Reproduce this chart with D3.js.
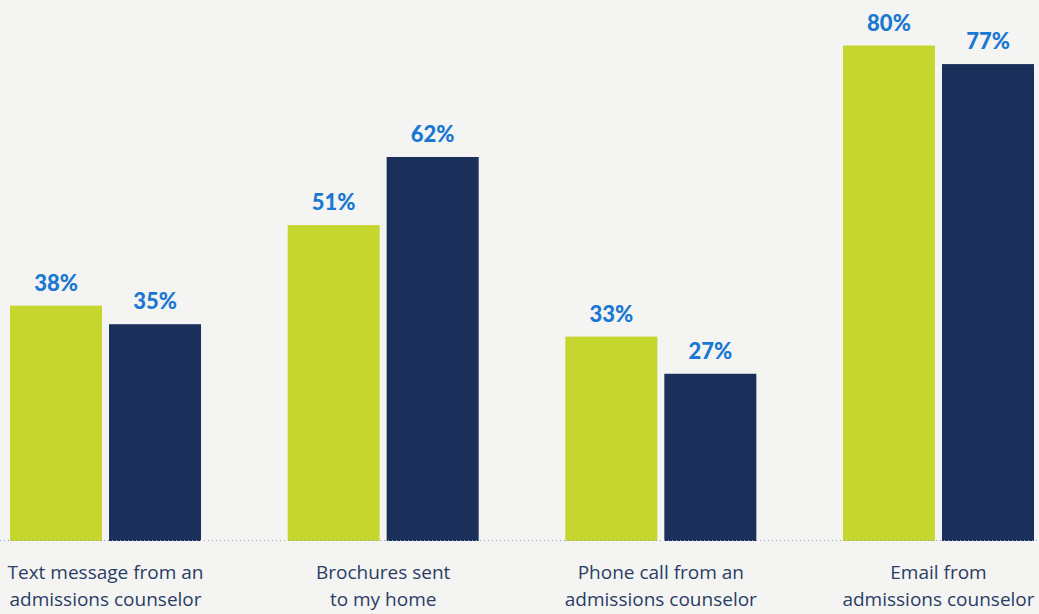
<!DOCTYPE html>
<html>
<head>
<meta charset="utf-8">
<script src="https://cdn.jsdelivr.net/npm/d3@7"></script>
<style>
  html, body { margin: 0; padding: 0; background: #f4f4f2; }
  svg { display: block; }
</style>
</head>
<body>
<svg id="chart" width="1039" height="614"></svg>
<script>
// Communication channels and the share of respondents for each of the two groups
const categories = [
  ["Text message from an", "admissions counselor"],
  ["Brochures sent", "to my home"],
  ["Phone call from an", "admissions counselor"],
  ["Email from", "admissions counselor"]
];
const seriesNames = ["green", "navy"];
const greenValues = [38, 51, 33, 80];
const navyValues = [35, 62, 27, 77];

const colors = { green: "#c5d62e", navy: "#1a2f5a" };

const W = 1039, H = 614;
const baseY = 541;
const svg = d3.select("#chart");

const keys = categories.map((c, i) => "c" + i);
const x0 = d3.scaleBand().domain(keys).range([10, 1034]).paddingInner(0.312).paddingOuter(0);
const x1 = d3.scaleBand().domain(seriesNames).range([0, x0.bandwidth()]).paddingInner(7 / 99).paddingOuter(0);
const y = d3.scaleLinear().domain([0, 80]).range([baseY, 45.5]);

const rows = keys.map((k, i) => ({
  key: k,
  label: categories[i],
  values: [
    { s: "green", v: greenValues[i] },
    { s: "navy", v: navyValues[i] }
  ]
}));

const groups = svg.selectAll("g.grp").data(rows).join("g")
  .attr("class", "grp")
  .attr("transform", d => `translate(${x0(d.key)},0)`);

groups.selectAll("rect").data(d => d.values).join("rect")
  .attr("x", d => x1(d.s))
  .attr("width", x1.bandwidth())
  .attr("y", d => y(d.v))
  .attr("height", d => baseY - y(d.v))
  .attr("fill", d => colors[d.s]);

groups.selectAll("text.val").data(d => d.values).join("text")
  .attr("class", "val")
  .attr("x", d => x1(d.s) + x1.bandwidth() / 2)
  .attr("y", d => y(d.v) - 15)
  .attr("text-anchor", "middle")
  .attr("font-family", "Lato, 'Open Sans', sans-serif")
  .attr("font-weight", 900)
  .attr("font-size", 22)
  .attr("fill", "#1a78d2")
  .text(d => d.v + "%");

// dotted baseline
svg.append("line")
  .attr("x1", 0).attr("x2", W)
  .attr("y1", baseY - 0.5).attr("y2", baseY - 0.5)
  .attr("stroke", "#8b9cc6")
  .attr("stroke-width", 1)
  .attr("stroke-dasharray", "1,3");

// category labels
groups.each(function (d) {
  const t = d3.select(this).append("text")
    .attr("x", x0.bandwidth() / 2)
    .attr("text-anchor", "middle")
    .attr("font-family", "'Open Sans', sans-serif")
    .attr("font-size", 19)
    .attr("fill", "#2b3d66");
  d.label.forEach((line, i) => {
    t.append("tspan").attr("x", x0.bandwidth() / 2).attr("y", 579 + i * 27).text(line);
  });
});
</script>
</body>
</html>
